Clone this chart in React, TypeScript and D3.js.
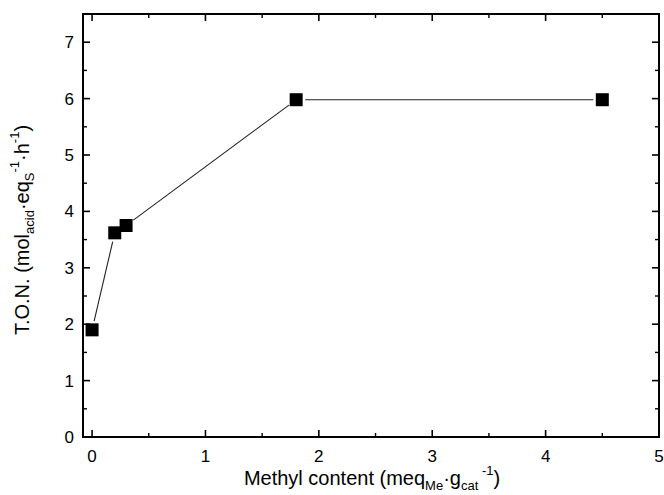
import React from "react";
import * as d3 from "d3";

const methylContent = [0, 0.2, 0.3, 1.8, 4.5];
const tonValues = [1.9, 3.62, 3.75, 5.98, 5.98];
const xMajorTicks = [0, 1, 2, 3, 4, 5];
const yMajorTicks = [0, 1, 2, 3, 4, 5, 6, 7];
const xMinorTicks = [0.5, 1.5, 2.5, 3.5, 4.5];
const yMinorTicks = [0.5, 1.5, 2.5, 3.5, 4.5, 5.5, 6.5];

const W = 664;
const H = 495;
const L = 83;
const R = 659;
const T = 14;
const B = 437;

export default function App() {
  const x = d3.scaleLinear().domain([-0.08, 5]).range([L, R]);
  const y = d3.scaleLinear().domain([0, 7.5]).range([B, T]);
  const pts = methylContent.map((v, i) => [x(v), y(tonValues[i])] as [number, number]);
  const font = "Liberation Sans, Arial, sans-serif";
  const maj = 7;
  const min = 4;
  const sq = 13;

  const segs: string[] = [];
  for (let i = 0; i < pts.length - 1; i++) {
    const [x1, y1] = pts[i];
    const [x2, y2] = pts[i + 1];
    const dx = x2 - x1;
    const dy = y2 - y1;
    const len = Math.hypot(dx, dy);
    const gap = 9;
    if (len <= 2 * gap) continue;
    const ux = dx / len;
    const uy = dy / len;
    segs.push(
      d3.line()([
        [x1 + ux * gap, y1 + uy * gap],
        [x2 - ux * gap, y2 - uy * gap],
      ]) as string
    );
  }

  return (
    <svg width={W} height={H} style={{ position: "absolute", left: 0, top: 0, background: "#fff" }}>
      <rect x={0} y={0} width={W} height={H} fill="#fff" />
      {segs.map((d, i) => (
        <path key={i} d={d} stroke="#222" strokeWidth={1.1} fill="none" />
      ))}
      {pts.map(([px, py], i) => (
        <rect key={i} x={px - sq / 2} y={py - sq / 2} width={sq} height={sq} fill="#000" />
      ))}
      <rect x={L} y={T} width={R - L} height={B - T} fill="none" stroke="#000" strokeWidth={2} />
      {xMajorTicks.map((t) => (
        <g key={"xm" + t}>
          <line x1={x(t)} x2={x(t)} y1={B} y2={B - maj} stroke="#000" strokeWidth={1.6} />
          <line x1={x(t)} x2={x(t)} y1={T} y2={T + maj} stroke="#000" strokeWidth={1.6} />
          <text x={x(t)} y={B + 25} textAnchor="middle" fontFamily={font} fontSize={17} fill="#000">
            {t}
          </text>
        </g>
      ))}
      {xMinorTicks.map((t) => (
        <g key={"xn" + t}>
          <line x1={x(t)} x2={x(t)} y1={B} y2={B - min} stroke="#000" strokeWidth={1.4} />
          <line x1={x(t)} x2={x(t)} y1={T} y2={T + min} stroke="#000" strokeWidth={1.4} />
        </g>
      ))}
      {yMajorTicks.map((t) => (
        <g key={"ym" + t}>
          <line x1={L} x2={L + maj} y1={y(t)} y2={y(t)} stroke="#000" strokeWidth={1.6} />
          <line x1={R} x2={R - maj} y1={y(t)} y2={y(t)} stroke="#000" strokeWidth={1.6} />
          <text x={L - 9} y={y(t) + 6} textAnchor="end" fontFamily={font} fontSize={17} fill="#000">
            {t}
          </text>
        </g>
      ))}
      {yMinorTicks.map((t) => (
        <g key={"yn" + t}>
          <line x1={L} x2={L + min} y1={y(t)} y2={y(t)} stroke="#000" strokeWidth={1.4} />
          <line x1={R} x2={R - min} y1={y(t)} y2={y(t)} stroke="#000" strokeWidth={1.4} />
        </g>
      ))}
      <text x={372} y={485} textAnchor="middle" fontFamily={font} fontSize={20} fill="#000">
        Methyl content (meq
        <tspan fontSize={13} dy={5}>Me</tspan>
        <tspan dy={-5}>·g</tspan>
        <tspan fontSize={13} dy={5}>cat</tspan>
        <tspan fontSize={13} dy={-15}> -1</tspan>
        <tspan dy={10}>)</tspan>
      </text>
      <text
        transform={`translate(29, 230) rotate(-90)`}
        textAnchor="middle"
        fontFamily={font}
        fontSize={20}
        fill="#000"
      >
        T.O.N. (mol
        <tspan fontSize={13} dy={5}>acid</tspan>
        <tspan dy={-5}>·eq</tspan>
        <tspan fontSize={13} dy={5}>S</tspan>
        <tspan fontSize={13} dy={-15}>-1</tspan>
        <tspan dy={10}>·h</tspan>
        <tspan fontSize={13} dy={-10}>-1</tspan>
        <tspan dy={10}>)</tspan>
      </text>
    </svg>
  );
}
